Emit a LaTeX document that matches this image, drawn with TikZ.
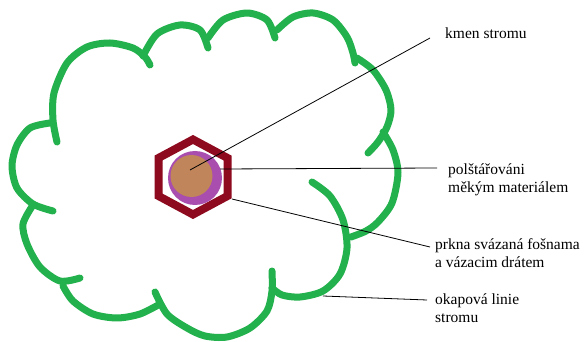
\documentclass[tikz,border=0pt]{standalone}
\usepackage{fontspec}
\setmainfont{Liberation Serif}
\definecolor{cgreen}{HTML}{22B14C}
\definecolor{hexred}{HTML}{8E0A1E}
\definecolor{padpurple}{HTML}{A94DAE}
\definecolor{trunkbrown}{HTML}{C0855A}
\begin{document}
\begin{tikzpicture}[x=1pt,y=-1pt,
  lobe/.style={draw=cgreen, line width=7pt, line cap=round, line join=round},
  leader/.style={draw=black, line width=0.8pt},
  lbl/.style={anchor=base west, inner sep=0pt, font=\fontsize{15.5}{18}\selectfont}]
\useasboundingbox (0,0) rectangle (587,342);
\fill[white] (0,0) rectangle (587,342);

% cloud (drip line) lobes
\draw[lobe] plot[smooth] coordinates {(50,123) (30,128) (17,145) (12,166) (17,188) (33,204) (53,211)};
\draw[lobe] plot[smooth] coordinates {(57,142) (53,120) (54,93) (67,63) (87,47) (110,43) (133,48) (145,57) (150,65)};
\draw[lobe] plot[smooth] coordinates {(143,56) (157,34) (180,25) (200,30) (208,48)};
\draw[lobe] plot[smooth] coordinates {(208,38) (223,20) (247,13) (267,20) (275,38)};
\draw[lobe] plot[smooth] coordinates {(277,30) (293,17) (313,13) (333,20) (347,37) (353,53) (355,63)};
\draw[lobe] plot[smooth] coordinates {(357,58) (373,70) (386,90) (391,110) (387,127) (378,142) (368,153)};
\draw[lobe] plot[smooth] coordinates {(383,132) (393,150) (398,173) (392,203) (378,222) (366,231) (351,237)};
\draw[lobe] plot[smooth] coordinates {(312,182) (330,196) (343,220) (347,248) (340,274) (323,291) (300,297) (282,295) (272,288)};
\draw[lobe] plot[smooth] coordinates {(272,271) (272,291) (267,311) (250,328) (227,337) (205,336) (187,328) (167,314) (155,292)};
\draw[lobe] plot[smooth] coordinates {(160,304) (140,314) (117,318) (93,314) (73,301) (63,286)};
\draw[lobe] plot[smooth] coordinates {(33,205) (23,224) (27,244) (40,267) (60,281) (80,278)};

% trunk protection
\draw[hexred, line width=8pt, line join=miter] (193,139.5) -- (227.5,158) -- (227.5,196) -- (193,214.5) -- (158.5,196) -- (158.5,158) -- cycle;
\fill[padpurple] (195,178) circle (27);
\fill[trunkbrown] (191.5,176) circle (21);

% anchor points
\coordinate (trunk) at (190,170);
\coordinate (pad) at (220,169);
\coordinate (board) at (232,199);
\coordinate (eave) at (323,296);
\coordinate (kEnd) at (430,38);
\coordinate (pEnd) at (437,168);
\coordinate (bEnd) at (430,247);
\coordinate (oEnd) at (427,300);

% labels
\node[lbl] (kmen) at (445,39) {kmen stromu};
\node[lbl] (polA) at (448,175) {polštářováni};
\node[lbl] (polB) at (448,192.5) {měkým materiálem};
\node[lbl] (prkA) at (435,250) {prkna svázaná fošnama};
\node[lbl] (prkB) at (435,267.5) {a vázacim drátem};
\node[lbl] (okaA) at (435,305) {okapová linie};
\node[lbl] (okaB) at (435,322.5) {stromu};

% leaders
\draw[leader] (trunk) -- (kEnd);
\draw[leader] (pad) -- (pEnd);
\draw[leader] (board) -- (bEnd);
\draw[leader] (eave) -- (oEnd);
\end{tikzpicture}
\end{document}
